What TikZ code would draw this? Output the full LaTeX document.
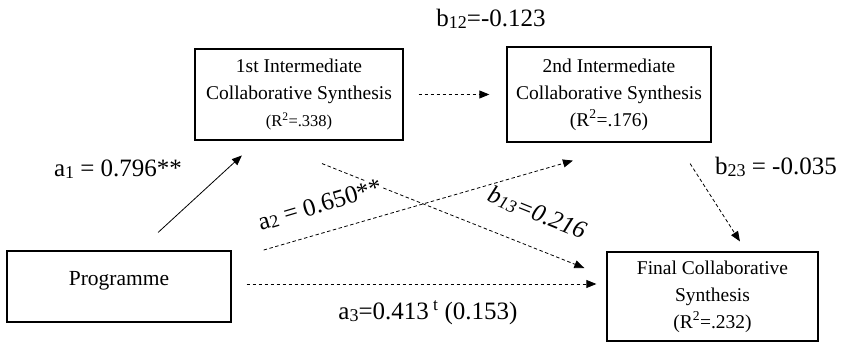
\documentclass[tikz,border=0pt]{standalone}
\usepackage{fontspec}
\setmainfont{Liberation Serif}
\usetikzlibrary{arrows.meta,positioning}

% small index digits that sit close to the baseline
\newcommand{\lowidx}[1]{{\fontsize{18}{20}\selectfont\raisebox{-1.5pt}{#1}}}

\begin{document}
\begin{tikzpicture}[
  x=1pt, y=-1pt,
  varbox/.style={draw=black, line width=1.3pt, align=center, inner sep=0pt,
    font=\fontsize{19.5}{27}\selectfont},
  sigpath/.style={-{Triangle[length=10pt,width=8pt]}, line width=0.8pt},
  nspath/.style={sigpath, dash pattern=on 3.5pt off 2.5pt},
  coef/.style={font=\fontsize{25}{30}\selectfont, inner sep=1pt},
]
  \useasboundingbox (0,0) rectangle (841,344);

  % variables
  \node[varbox, minimum width=224pt, minimum height=71pt, text depth=17pt,
    font=\fontsize{21.5}{27}\selectfont] (prog) at (119,286.5) {Programme};
  \node[varbox, minimum width=208pt, minimum height=91pt] (inter1) at (299,94.5)
    {1st Intermediate\\Collaborative Synthesis\\
     {\fontsize{16.5}{20}\selectfont(R\textsuperscript{2}=.338)}};
  \node[varbox, minimum width=204pt, minimum height=95pt] (inter2) at (609,94.5)
    {2nd Intermediate\\Collaborative Synthesis\\(R\textsuperscript{2}=.176)};
  \node[varbox, minimum width=211pt, minimum height=89pt] (final) at (712.5,296.5)
    {Final Collaborative\\Synthesis\\(R\textsuperscript{2}=.232)};

  % paths
  \draw[sigpath, shorten <=26.5pt, shorten >=21.9pt]
    ([xshift=19.6pt]prog.north) -- ([xshift=-41pt]inter1.south);
  \draw[nspath, shorten <=15pt, shorten >=17pt] (inter1.east) -- (inter2.west);
  \draw[nspath, shorten <=33.3pt, shorten >=64.6pt]
    ([yshift=27.2pt]prog.east) -- ([xshift=26pt]inter2.south);
  \draw[nspath, shorten <=62pt, shorten >=23.7pt]
    ([xshift=-34.6pt]inter1.south) -- ([yshift=19.7pt]final.west);
  \draw[nspath, shorten <=24.9pt, shorten >=11.8pt]
    ([xshift=67.7pt]inter2.south) -- ([xshift=33.8pt]final.north);
  \draw[nspath, shorten <=15pt, shorten >=10pt]
    ([yshift=2.5pt]prog.east) -- ([yshift=12.5pt]final.west);

  % coefficients
  \node[coef, anchor=base] (la1) at (118,177) {a\lowidx{1} = 0.796**};
  \node[coef, anchor=base] (lb12) at (491,27) {b\lowidx{12}=-0.123};
  \node[coef, anchor=base] (lb23) at (776,175) {b\lowidx{23} = -0.035};
  \node[coef, anchor=base] (la3) at (428,320)
    {a\lowidx{3}=0.413\,\textsuperscript{t} (0.153)};
  \node[coef, fill=white, rotate=16.5] (la2) at (320,205) {a\lowidx{2} = 0.650**};
  \node[coef, fill=white, rotate=-22, font=\fontsize{25}{30}\selectfont\itshape]
    (lb13) at (537,213) {b\lowidx{13}=0.216};
\end{tikzpicture}
\end{document}
